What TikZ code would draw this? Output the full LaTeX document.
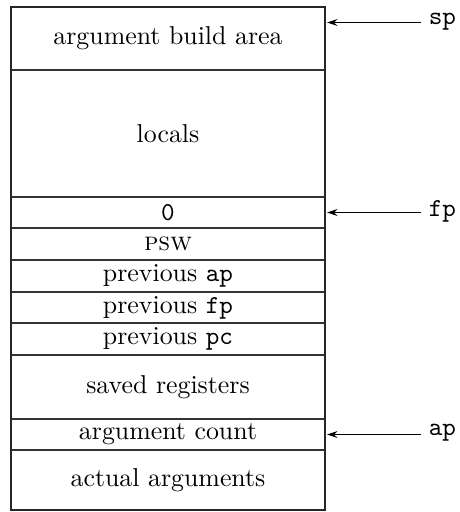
\documentclass[tikz,border=0pt]{standalone}
\usetikzlibrary{arrows.meta}
\begin{document}
\begin{tikzpicture}[x=0.387pt,y=-0.387pt,
  frame/.style={line width=0.8pt,draw=black!85},
  sep/.style={line width=0.5pt,draw=black!80},
  cell/.style={inner sep=0pt,font=\normalsize},
  ptr/.style={line width=0.45pt,-{Stealth[length=4pt,width=2.6pt]}},
  reg/.style={inner sep=0pt,outer sep=3pt,anchor=west,font=\ttfamily}]
\useasboundingbox (0,0) rectangle (459,512);
% separators
\foreach \y in {70,197,228,260,292,323,355,419,450}
  \draw[sep] (11,\y) -- (325,\y);
\draw[frame] (11,7) rectangle (325,510);
% cell texts
\node[cell] (aba) at (168,38.5) {argument build area};
\node[cell] (loc) at (168,133.5) {locals};
\node[cell] (zero) at (168,212.5) {\texttt{0}};
\node[cell] (psw) at (168,244) {\textsc{psw}};
\node[cell] (pap) at (168,276) {previous \texttt{ap}};
\node[cell] (pfp) at (168,307.5) {previous \texttt{fp}};
\node[cell] (ppc) at (168,339) {previous \texttt{pc}};
\node[cell] (sav) at (168,387) {saved registers};
\node[cell] (cnt) at (168,434.5) {argument count};
\node[cell] (act) at (168,480) {actual arguments};
% pointer labels
\node[reg] (sp) at (421,21.5) {sp};
\node[reg] (fp) at (421,211) {fp};
\node[reg] (ap) at (421,433) {ap};
\coordinate (spt) at (327,22.5);
\coordinate (fpt) at (327,212.5);
\coordinate (apt) at (327,434.5);
\draw[ptr] (sp.west |- spt) -- (spt);
\draw[ptr] (fp.west |- fpt) -- (fpt);
\draw[ptr] (ap.west |- apt) -- (apt);
\end{tikzpicture}
\end{document}
